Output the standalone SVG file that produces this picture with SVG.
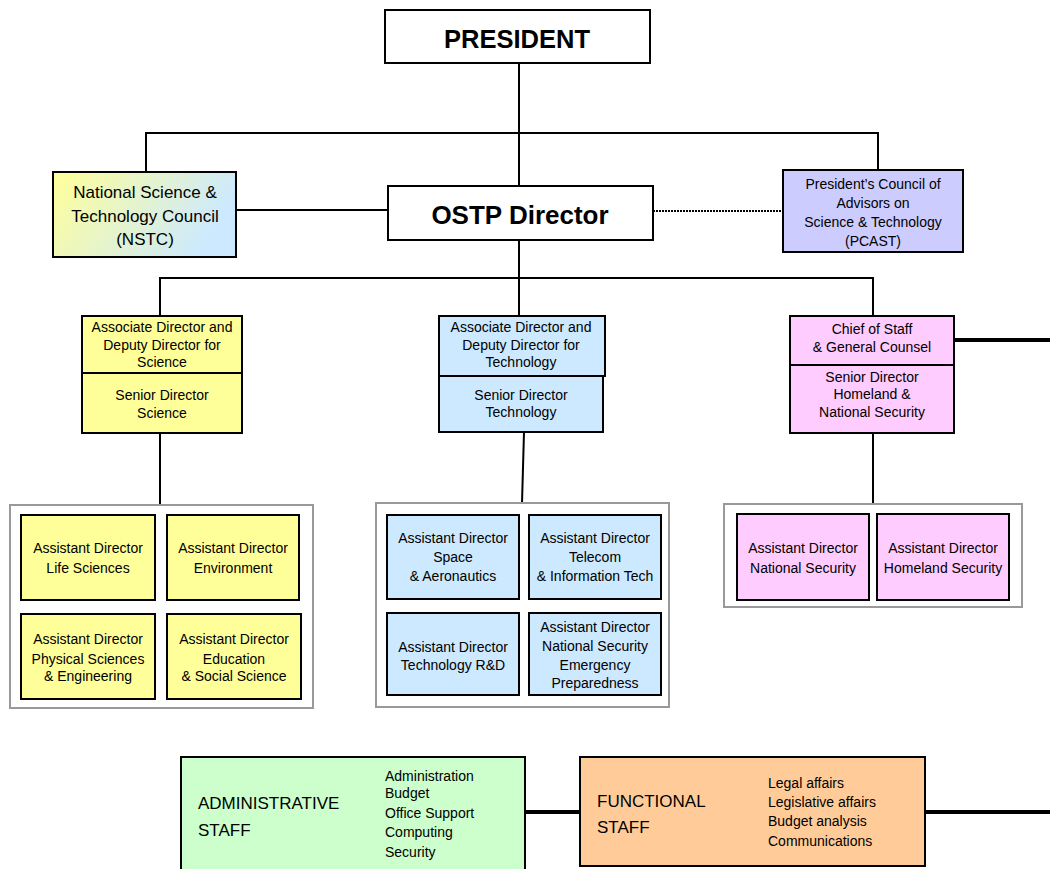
<svg xmlns="http://www.w3.org/2000/svg" width="1050" height="869" viewBox="0 0 1050 869">
<defs>
<linearGradient id="nstcGrad" x1="0" y1="0" x2="1" y2="0.3">
<stop offset="0" stop-color="#ffff99"/>
<stop offset="1" stop-color="#cce9ff"/>
</linearGradient>
</defs>
<style>
text{font-family:"Liberation Sans",Arial,sans-serif;fill:#000;}
.box{stroke:#000;stroke-width:2;}
.c{text-anchor:middle;}
.t14{font-size:14px;}
.t17{font-size:17px;}
.ln{stroke:#000;stroke-width:2;fill:none;}
.thick{stroke:#000;stroke-width:4;fill:none;}
.cont{fill:#fff;stroke:#999;stroke-width:2;}
.yel{fill:#ffff99;}
.blu{fill:#cce9ff;}
.pnk{fill:#ffccff;}
.lav{fill:#ccccff;}
.wht{fill:#fff;}
</style>

<g id="connectors">
<line class="ln" x1="519" y1="63" x2="519" y2="187"/>
<polyline class="ln" points="146,172 146,133 878,133 878,170"/>
<line class="ln" x1="236" y1="210" x2="388" y2="210"/>
<line x1="653" y1="211" x2="783" y2="211" stroke="#000" stroke-width="2" stroke-dasharray="2 1"/>
<line class="ln" x1="519" y1="240" x2="519" y2="316"/>
<polyline class="ln" points="160,316 160,278 873,278 873,316"/>
<line class="ln" x1="160" y1="433" x2="160" y2="505"/>
<line class="ln" x1="524" y1="432" x2="522" y2="503"/>
<line class="ln" x1="873" y1="433" x2="873" y2="504"/>
<line class="thick" x1="954" y1="340" x2="1050" y2="340"/>
<line class="thick" x1="525" y1="812" x2="580" y2="812"/>
<line class="thick" x1="925" y1="812" x2="1050" y2="812"/>
</g>

<g id="president">
<rect class="box wht" x="385" y="10" width="265" height="53"/>
<text class="c" x="517" y="48" font-size="25.5" font-weight="bold">PRESIDENT</text>
</g>

<g id="nstc">
<rect class="box" fill="url(#nstcGrad)" x="53" y="172" width="183" height="85"/>
<text class="c t17" x="145" y="198">National Science &amp;</text>
<text class="c t17" x="145" y="222">Technology Council</text>
<text class="c t17" x="145" y="245">(NSTC)</text>
</g>

<g id="ostp">
<rect class="box wht" x="388" y="186" width="265" height="54"/>
<text class="c" x="520" y="224" font-size="26" font-weight="bold">OSTP Director</text>
</g>

<g id="pcast">
<rect class="box lav" x="783" y="170" width="180" height="82"/>
<text class="c t14" x="873" y="189">President’s Council of</text>
<text class="c t14" x="873" y="208">Advisors on</text>
<text class="c t14" x="873" y="227">Science &amp; Technology</text>
<text class="c t14" x="873" y="246">(PCAST)</text>
</g>

<g id="science">
<rect class="box yel" x="82" y="316" width="160" height="57"/>
<rect class="box yel" x="82" y="373" width="160" height="60"/>
<text class="c t14" x="162" y="332">Associate Director and</text>
<text class="c t14" x="162" y="350">Deputy Director for</text>
<text class="c t14" x="162" y="367">Science</text>
<text class="c t14" x="162" y="400">Senior Director</text>
<text class="c t14" x="162" y="418">Science</text>
</g>

<g id="technology">
<rect class="box blu" x="439" y="316" width="166" height="60"/>
<rect class="box blu" x="439" y="376" width="164" height="56"/>
<text class="c t14" x="521" y="332">Associate Director and</text>
<text class="c t14" x="521" y="350">Deputy Director for</text>
<text class="c t14" x="521" y="367">Technology</text>
<text class="c t14" x="521" y="400">Senior Director</text>
<text class="c t14" x="521" y="417">Technology</text>
</g>

<g id="chief">
<rect class="box pnk" x="790" y="316" width="164" height="49"/>
<rect class="box pnk" x="790" y="365" width="164" height="68"/>
<text class="c t14" x="872" y="334">Chief of Staff</text>
<text class="c t14" x="872" y="352">&amp; General Counsel</text>
<text class="c t14" x="872" y="382">Senior Director</text>
<text class="c t14" x="872" y="399">Homeland &amp;</text>
<text class="c t14" x="872" y="417">National Security</text>
</g>

<g id="science-assistants">
<rect class="cont" x="10" y="505" width="303" height="203"/>
<g id="ad-life">
<rect class="box yel" x="21" y="515" width="134" height="85"/>
<text class="c t14" x="88" y="553">Assistant Director</text>
<text class="c t14" x="88" y="573">Life Sciences</text>
</g>
<g id="ad-env">
<rect class="box yel" x="167" y="515" width="132" height="85"/>
<text class="c t14" x="233" y="553">Assistant Director</text>
<text class="c t14" x="233" y="573">Environment</text>
</g>
<g id="ad-phys">
<rect class="box yel" x="21" y="614" width="134" height="85"/>
<text class="c t14" x="88" y="644">Assistant Director</text>
<text class="c t14" x="88" y="664">Physical Sciences</text>
<text class="c t14" x="88" y="681">&amp; Engineering</text>
</g>
<g id="ad-edu">
<rect class="box yel" x="167" y="614" width="134" height="85"/>
<text class="c t14" x="234" y="644">Assistant Director</text>
<text class="c t14" x="234" y="664">Education</text>
<text class="c t14" x="234" y="681">&amp; Social Science</text>
</g>
</g>

<g id="tech-assistants">
<rect class="cont" x="376" y="503" width="293" height="204"/>
<g id="ad-space">
<rect class="box blu" x="387" y="515" width="132" height="84"/>
<text class="c t14" x="453" y="543">Assistant Director</text>
<text class="c t14" x="453" y="562">Space</text>
<text class="c t14" x="453" y="581">&amp; Aeronautics</text>
</g>
<g id="ad-telecom">
<rect class="box blu" x="529" y="515" width="132" height="84"/>
<text class="c t14" x="595" y="543">Assistant Director</text>
<text class="c t14" x="595" y="562">Telecom</text>
<text class="c t14" x="595" y="581">&amp; Information Tech</text>
</g>
<g id="ad-rd">
<rect class="box blu" x="387" y="613" width="132" height="82"/>
<text class="c t14" x="453" y="652">Assistant Director</text>
<text class="c t14" x="453" y="670">Technology R&amp;D</text>
</g>
<g id="ad-nsep">
<rect class="box blu" x="529" y="613" width="132" height="82"/>
<text class="c t14" x="595" y="632">Assistant Director</text>
<text class="c t14" x="595" y="651">National Security</text>
<text class="c t14" x="595" y="670">Emergency</text>
<text class="c t14" x="595" y="688">Preparedness</text>
</g>
</g>

<g id="security-assistants">
<rect class="cont" x="724" y="504" width="298" height="103"/>
<g id="ad-natsec">
<rect class="box pnk" x="737" y="514" width="132" height="86"/>
<text class="c t14" x="803" y="553">Assistant Director</text>
<text class="c t14" x="803" y="573">National Security</text>
</g>
<g id="ad-homeland">
<rect class="box pnk" x="877" y="514" width="132" height="86"/>
<text class="c t14" x="943" y="553">Assistant Director</text>
<text class="c t14" x="943" y="573">Homeland Security</text>
</g>
</g>

<g id="admin-staff">
<rect class="box" fill="#ccffcc" x="181" y="757" width="344" height="130"/>
<text class="t17" x="198" y="809">ADMINISTRATIVE</text>
<text class="t17" x="198" y="836">STAFF</text>
<text class="t14" x="385" y="781">Administration</text>
<text class="t14" x="385" y="798">Budget</text>
<text class="t14" x="385" y="818">Office Support</text>
<text class="t14" x="385" y="837">Computing</text>
<text class="t14" x="385" y="857">Security</text>
</g>

<g id="functional-staff">
<rect class="box" fill="#ffcc99" x="580" y="757" width="345" height="109"/>
<text class="t17" x="597" y="807">FUNCTIONAL</text>
<text class="t17" x="597" y="833">STAFF</text>
<text class="t14" x="768" y="788">Legal affairs</text>
<text class="t14" x="768" y="807">Legislative affairs</text>
<text class="t14" x="768" y="826">Budget analysis</text>
<text class="t14" x="768" y="846">Communications</text>
</g>
</svg>
